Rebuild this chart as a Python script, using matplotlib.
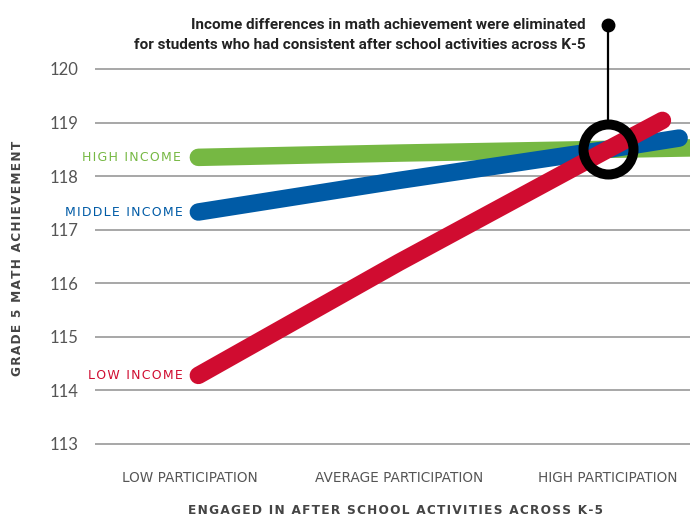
import matplotlib
matplotlib.use('Agg')
import matplotlib.pyplot as plt

categories = ['LOW PARTICIPATION', 'AVERAGE PARTICIPATION', 'HIGH PARTICIPATION']
# x positions of points along each line (0 = low, 1 = average, 2 = high), lines run on past "high"
low_x = [0.04, 1, 2, 2.26]
low_y = [114.28, 116.39, 118.5, 119.04]
mid_x = [0.04, 1, 2, 2.34]
mid_y = [117.33, 117.92, 118.5, 118.71]
high_x = [0.04, 1, 2, 2.45]
high_y = [118.35, 118.43, 118.5, 118.53]
series_names = ['HIGH INCOME', 'MIDDLE INCOME', 'LOW INCOME']
yticks = [113, 114, 115, 116, 117, 118, 119, 120]
note = 'Income differences in math achievement were eliminated\nfor students who had consistent after school activities across K-5'
meet_x, meet_y = 2, 118.5
pin_top = 120.82

green = '#76b843'
blue = '#005ba6'
red = '#d00c30'


def spaced(s, sp='\u200a'):
    return sp.join(s)


fig = plt.figure(figsize=(6.9, 5.2), dpi=100)
ax = fig.add_axes([95 / 690, 0.105, 1 - 95 / 690, 0.8654])

lw = 12.6
ax.plot(high_x, high_y, color=green, lw=lw, solid_capstyle='round', zorder=3)
ax.plot(mid_x, mid_y, color=blue, lw=lw, solid_capstyle='round', zorder=4)
ax.plot(low_x, low_y, color=red, lw=lw, solid_capstyle='round', zorder=5)

# pin + ring
ax.plot([meet_x, meet_x], [meet_y + 0.55, pin_top], color='black', lw=1.6, zorder=6, clip_on=False)
ax.plot([meet_x], [pin_top], marker='o', ms=9, color='black', zorder=7, clip_on=False)
ax.plot([meet_x], [meet_y], marker='o', ms=36, mfc='none', mec='black', mew=7.2, zorder=8)

ax.text(1.895, 120.63, note, ha='right', va='center', fontsize=11, fontweight='bold',
        family=['Roboto', 'DejaVu Sans'], color='#222222', linespacing=1.5)

# series labels
lbl_kw = dict(ha='right', va='center', fontsize=9)
ax.text(-0.045, high_y[0], spaced(series_names[0]), color=green, **lbl_kw)
ax.text(-0.035, mid_y[0], spaced(series_names[1]), color=blue, **lbl_kw)
ax.text(-0.035, low_y[0], spaced(series_names[2]), color=red, **lbl_kw)

ax.set_xlim(-0.4545, 2.392)
ax.set_ylim(112.6, 121.0)
ax.set_yticks(yticks)
ax.set_yticklabels([str(t) for t in yticks], fontsize=12, color='#555555',
                   family=['Lato', 'DejaVu Sans'])
ax.set_xticks([0, 1, 2])
ax.set_xticklabels(categories, fontsize=9.8, color='#555555')
ax.tick_params(axis='both', length=0)
ax.tick_params(axis='y', pad=12)
ax.tick_params(axis='x', pad=4)
ax.grid(True, axis='y', color='#a0a0a0', lw=1.3)
ax.set_axisbelow(True)
for s in ax.spines.values():
    s.set_visible(False)

fig.text(395 / 690, 1 - 510 / 520, spaced('ENGAGED IN AFTER SCHOOL ACTIVITIES ACROSS K-5'),
         ha='center', va='center', fontsize=8.7, fontweight='bold', color='#444444')
fig.text(18 / 690, 1 - 258 / 520, spaced('GRADE 5 MATH ACHIEVEMENT'), rotation=90,
         ha='center', va='center', fontsize=8.7, fontweight='bold', color='#444444')

fig.savefig('out.png', dpi=100)
